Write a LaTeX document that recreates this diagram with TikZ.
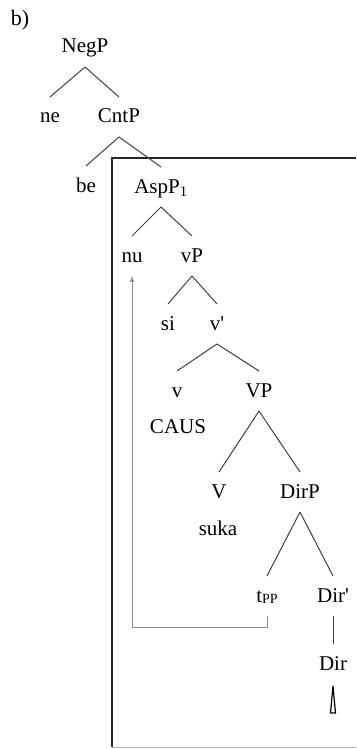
\documentclass[tikz,border=0pt]{standalone}
\usepackage{fontspec}
\setmainfont{Liberation Serif}
\usepackage{tikz}
\usetikzlibrary{arrows}

\begin{document}
\begin{tikzpicture}[x=1pt,y=-1pt,
  lbl/.style={font=\fontsize{21}{24}\selectfont, inner sep=0pt, anchor=base,
    text height=16pt, text depth=4pt, outer sep=10pt},
  branch/.style={draw=black!75, line width=1pt},
  move/.style={draw=black!45, line width=1pt, -latex}]
\useasboundingbox (0,0) rectangle (356,749);
% box
\draw[line width=1.4pt, black!85] (356,158) -- (112,158) -- (112,747);
\draw[line width=1pt, black!30] (112,747) -- (356,747);
% labels
\node[font=\fontsize{22}{24}\selectfont, anchor=base] (b) at (20,26) {b)};
\node[lbl] (negp) at (85,53) {NegP};
\node[lbl] (ne) at (50,123) {ne};
\node[lbl] (cntp) at (119,123) {CntP};
\node[lbl] (be) at (86,192) {be};
\node[lbl] (aspp) at (161,193) {AspP\textsubscript{1}};
\node[lbl] (nu) at (132,262) {nu};
\node[lbl] (vp) at (192,262) {vP};
\node[lbl] (si) at (168,330) {si};
\node[lbl] (vbar) at (217,330) {v\textquotesingle};
\node[lbl] (vhead) at (177,397) {v};
\node[lbl] (caus) at (178,433) {CAUS};
\node[lbl] (bigvp) at (259,397) {VP};
\node[lbl] (bigv) at (219,498) {V};
\node[lbl] (suka) at (218,535) {suka};
\node[lbl] (dirp) at (300,498) {DirP};
\node[lbl] (tpp) at (267,602) {t\raisebox{-0.15ex}{\fontsize{14}{16}\selectfont PP}};
\node[lbl] (dirbar) at (333,602) {Dir\textquotesingle};
\node[lbl] (dir) at (333,670) {Dir};
% branches
\draw[branch] (negp.south) -- (ne.north);
\draw[branch] (negp.south) -- (cntp.north);
\draw[branch] (cntp.south) -- (be.north);
\draw[branch] (cntp.south) -- (aspp.north);
\draw[branch] (aspp.south) -- (nu.north);
\draw[branch] (aspp.south) -- (vp.north);
\draw[branch] (vp.south) -- (si.north);
\draw[branch] (vp.south) -- (vbar.north);
\draw[branch] (vbar.south) -- (vhead.north);
\draw[branch] (vbar.south) -- (bigvp.north);
\draw[branch] (bigvp.south) -- (bigv.north);
\draw[branch] (bigvp.south) -- (dirp.north);
\draw[branch] (dirp.south) -- (tpp.north);
\draw[branch] (dirp.south) -- (dirbar.north);
\draw[branch] (dirbar.south) -- (dir.north);
% empty head
\draw[line width=1.2pt, line join=round] ([yshift=-2pt]dir.south) -- ++(-2.5,27) -- ++(5,0) -- cycle;
% movement
\draw[move] (tpp.south) -- ++(0,11) -| (nu.south);
\end{tikzpicture}
\end{document}
